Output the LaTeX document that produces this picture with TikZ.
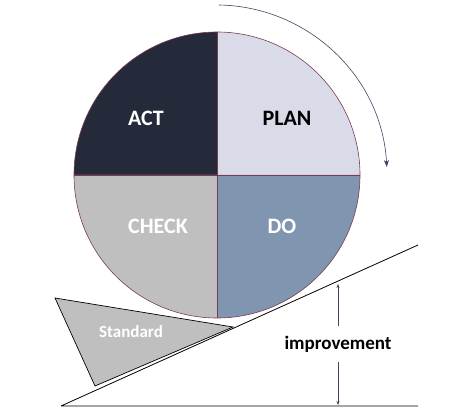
\documentclass[tikz,border=0pt]{standalone}
\usepackage{fontspec}
\setmainfont{Carlito}
\usetikzlibrary{arrows.meta}
\definecolor{actc}{HTML}{252A3A}
\definecolor{planc}{HTML}{D9DBE8}
\definecolor{checkc}{HTML}{BFBFBF}
\definecolor{doc}{HTML}{8096B0}
\definecolor{edge}{HTML}{7A3A50}
\definecolor{arr}{HTML}{3A4560}
\begin{document}
\begin{tikzpicture}[x=1pt,y=-1pt,
  quad/.style={draw=edge,line width=0.6pt},
  lab/.style={font=\bfseries\fontsize{22}{26}\selectfont}]
\useasboundingbox (0,0) rectangle (468,419);
\coordinate (c) at (217,175);
\fill[fill=actc] (c) -- (74,175) arc[start angle=180,end angle=270,radius=143] -- cycle;
\fill[fill=planc] (c) -- (217,32) arc[start angle=270,end angle=360,radius=143] -- cycle;
\fill[fill=checkc] (c) -- (74,175) arc[start angle=180,end angle=90,radius=143] -- cycle;
\fill[fill=doc] (c) -- (360,175) arc[start angle=0,end angle=90,radius=143] -- cycle;
\draw[quad] (c) circle[radius=143];
\draw[quad] (74,175) -- (360,175) (217,32) -- (217,318);
\node[lab,text=white] (act) at (146,118) {ACT};
\node[lab,text=black] (plan) at (287,118) {PLAN};
\node[lab,text=white] (check) at (158,226) {CHECK};
\node[lab,text=white] (do) at (282,226) {DO};
\draw[arr,line width=0.6pt,-{Stealth[length=7pt,width=5pt]}] (219,5) arc[start angle=-89,end angle=-3,radius=171];
\coordinate (b0) at (61,406);
\coordinate (b1) at (418,406);
\coordinate (s1) at (418,245);
\draw[line width=0.8pt] (b0) -- (b1) (b0) -- (s1);
\draw[fill=checkc,line width=0.7pt] (55,298) -- (233,327) -- (95,386) -- cycle;
\node[font=\bfseries\fontsize{17}{20}\selectfont,text=white] (std) at (131,332) {Standard};
\node[font=\bfseries\fontsize{19}{22}\selectfont,inner sep=1pt] (imp) at (338,344) {improvement};
\coordinate (t) at (338,284);
\coordinate (u) at (338,405);
\draw[arr,line width=0.5pt,-{Stealth[length=4pt,width=3pt]}] (338,326) -- (t);
\draw[arr,line width=0.5pt,-{Stealth[length=4pt,width=3pt]}] (338,362) -- (u);
\end{tikzpicture}
\end{document}
